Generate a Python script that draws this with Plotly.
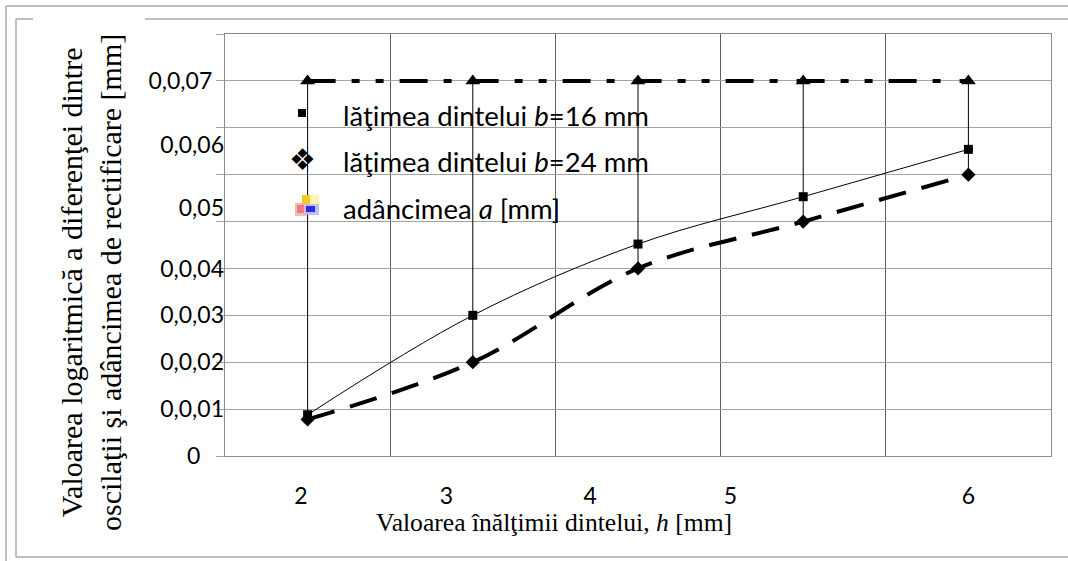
import plotly.graph_objects as go

# ---- data -------------------------------------------------------------
h_mm = [2, 3, 4, 5, 6]                                  # tooth height h [mm]
b16 = [0.0088, 0.030, 0.0452, 0.0553, 0.0654]           # tooth width b = 16 mm
b24 = [0.0078, 0.020, 0.040, 0.050, 0.060]              # tooth width b = 24 mm
depth_a = [0.08, 0.08, 0.08, 0.08, 0.08]                # grinding depth a [mm]

x_tick_text = ["2", "3", "4", "5", "6"]
y_tick_text = ["0", "0,0,01", "0,0,02", "0,0,03", "0,0,04", "0,05", "0,0,06", "0,0,07"]

# ---- layout constants ---------------------------------------------------
W, H = 1068, 561
L, R, T, B = 225, 1051, 34, 456          # plot area in pixels
X_LABEL_POS = [1.96, 2.84, 3.71, 4.56, 6.0]
Y_LABEL_POS = [0.0, 0.01, 0.02, 0.03, 0.04, 0.0529, 0.0663, 0.08]
Y_LABEL_PAD = ["\u00a0" * 4, "", "", "", "", "", "", "\u00a0" * 2]

SANS = "Lato"
SERIF = "Liberation Serif, Times New Roman, serif"
HGRID = "#a3a3a3"
VGRID = "#5e5e5e"
FRAME = "#ababab"


def px(xp):
    return (xp - L) / (R - L)


def py(yp):
    return (B - yp) / (B - T)


fig = go.Figure()

# high-low connectors from the depth line down to the lowest series value
hl_x, hl_y = [], []
for xi, a, s1, s2 in zip(h_mm, depth_a, b16, b24):
    hl_x += [xi, xi, None]
    hl_y += [a, min(s1, s2), None]
fig.add_trace(go.Scatter(x=hl_x, y=hl_y, mode="lines",
                         line=dict(color="black", width=1),
                         hoverinfo="skip", showlegend=False))

fig.add_trace(go.Scatter(
    x=h_mm, y=b24, mode="lines+markers", name="b=24 mm",
    line=dict(color="black", width=4, dash="28px,16px", shape="spline"),
    marker=dict(symbol="diamond", size=11, color="black"),
    showlegend=False))

fig.add_trace(go.Scatter(
    x=h_mm, y=b16, mode="lines+markers", name="b=16 mm",
    line=dict(color="black", width=1, shape="spline"),
    marker=dict(symbol="square", size=9, color="black"),
    showlegend=False))

fig.add_trace(go.Scatter(
    x=h_mm, y=depth_a, mode="lines+markers", name="a [mm]",
    line=dict(color="black", width=4,
              dash="28px,16px,8px,16px,8px,16px,28px,16px,8px,19px"),
    marker=dict(symbol="triangle-up", size=13, color="black"),
    showlegend=False))

# invisible carriers so the label axes (x2, y2) get drawn
fig.add_trace(go.Scatter(x=h_mm, y=depth_a, xaxis="x2", yaxis="y",
                         mode="markers", marker=dict(opacity=0),
                         hoverinfo="skip", showlegend=False))
fig.add_trace(go.Scatter(x=h_mm, y=depth_a, xaxis="x", yaxis="y2",
                         mode="markers", marker=dict(opacity=0),
                         hoverinfo="skip", showlegend=False))

fig.update_layout(
    width=W, height=H,
    margin=dict(l=L, r=W - R, t=T, b=H - B, autoexpand=False),
    paper_bgcolor="white", plot_bgcolor="white",
    showlegend=False,
    font=dict(family=SANS, size=23, color="black"),
    xaxis=dict(range=[1.5, 6.5], tickmode="linear", tick0=1.5, dtick=1,
               showgrid=True, gridcolor=VGRID, gridwidth=1,
               showticklabels=False, ticks="", zeroline=False,
               showline=True, linecolor="#8a8a8a", linewidth=1, mirror=True,
               automargin=False),
    yaxis=dict(range=[0, 0.09], tickmode="linear", tick0=0, dtick=0.01,
               showgrid=True, gridcolor=HGRID, gridwidth=1,
               showticklabels=False, ticks="outside", ticklen=8,
               tickcolor=HGRID, tickwidth=1, zeroline=False,
               showline=True, linecolor="#8a8a8a", linewidth=1, mirror=True,
               automargin=False),
    xaxis2=dict(overlaying="x", anchor="y", side="bottom", range=[1.5, 6.5],
                tickmode="array", tickvals=X_LABEL_POS, ticktext=x_tick_text,
                showgrid=False, showline=False, zeroline=False, ticks="",
                ticklabelstandoff=24, tickfont=dict(family=SANS, size=23),
                automargin=False),
    yaxis2=dict(overlaying="y", anchor="x", side="left", range=[0, 0.09],
                tickmode="array", tickvals=Y_LABEL_POS,
                ticktext=[t + p for t, p in zip(y_tick_text, Y_LABEL_PAD)],
                showgrid=False, showline=False, zeroline=False, ticks="",
                tickfont=dict(family=SANS, size=23), automargin=False),
)

# ---- outer frames ------------------------------------------------------
frame_lines = [
    (6, 6, W, 6), (6, 6, 6, H),
    (16, 19, 16, 557), (16, 19, 33, 19), (145, 19, W, 19), (16, 557, W, 557),
]
for x0, y0, x1, y1 in frame_lines:
    fig.add_shape(type="line", xref="paper", yref="paper",
                  x0=px(x0), y0=py(y0), x1=px(x1), y1=py(y1),
                  line=dict(color=FRAME, width=1.5), layer="above")

# ---- axis titles -------------------------------------------------------
fig.add_annotation(
    xref="paper", yref="paper", x=px(554), y=py(522),
    xanchor="center", yanchor="middle", showarrow=False,
    text="Valoarea înălţimii dintelui, <i>h</i> [mm]",
    font=dict(family=SERIF, size=25.6, color="black"))

fig.add_annotation(
    xref="paper", yref="paper", x=px(91), y=py(283),
    xanchor="center", yanchor="middle", showarrow=False, textangle=-90,
    text="Valoarea logaritmică a diferenţei dintre<br>"
         "oscilaţii şi adâncimea de rectificare [mm]",
    font=dict(family=SERIF, size=30, color="black"))

# ---- legend (inside plot) ----------------------------------------------
legend_rows = [
    (115, "lăţimea dintelui <i>b</i>=16 mm"),
    (161, "lăţimea dintelui <i>b</i>=24 mm"),
    (208, "adâncimea <i>a</i> [mm]"),
]
for yc, label in legend_rows:
    fig.add_annotation(xref="paper", yref="paper", x=px(341), y=py(yc),
                       xanchor="left", yanchor="middle", showarrow=False,
                       text=label, font=dict(family=SANS, size=27.5, color="black"))

# square symbol
fig.add_shape(type="rect", xref="paper", yref="paper",
              x0=px(298), x1=px(306), y0=py(117), y1=py(109),
              fillcolor="black", line=dict(width=0))
# four-diamond symbol
fig.add_annotation(xref="paper", yref="paper", x=px(302), y=py(159),
                   xanchor="center", yanchor="middle", showarrow=False,
                   text="❖", font=dict(family="DejaVu Sans", size=30, color="black"))
# multi-coloured picture symbol
icon_parts = [
    (302, 195, 319, 204, "#fff2b3", 1.0),
    (302, 195, 310, 205, "#f3c614", 0.9),
    (295, 203, 306, 216, "#f6b3b3", 0.9),
    (297, 205, 304, 213, "#ea6b6b", 0.8),
    (305, 204, 319, 215, "#b8b8f6", 0.9),
    (306, 206, 315, 212, "#2424e0", 0.95),
]
for x0, y0, x1, y1, col, op in icon_parts:
    fig.add_shape(type="rect", xref="paper", yref="paper",
                  x0=px(x0), x1=px(x1), y0=py(y1), y1=py(y0),
                  fillcolor=col, opacity=op, line=dict(width=0))

fig.write_html("out.html")
